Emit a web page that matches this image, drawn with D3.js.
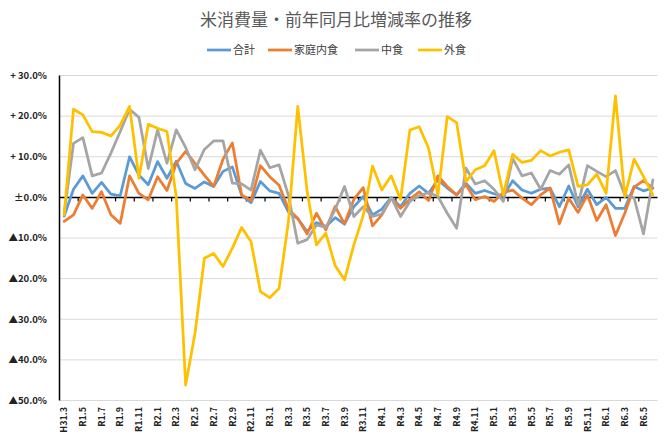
<!DOCTYPE html>
<html><head><meta charset="utf-8">
<script src="https://cdn.jsdelivr.net/npm/d3@7"></script>
<style>
html,body{margin:0;padding:0;background:#fff;}
svg{display:block;font-family:"Noto Sans CJK JP","Noto Sans",sans-serif;}
</style></head>
<body><svg id="c" width="672" height="446"></svg>
<script>
const title = "米消費量・前年同月比増減率の推移";
const categories = [
"H31.3","H31.4","R1.5","R1.6","R1.7","R1.8","R1.9","R1.10","R1.11","R1.12",
"R2.1","R2.2","R2.3","R2.4","R2.5","R2.6","R2.7","R2.8","R2.9","R2.10","R2.11","R2.12",
"R3.1","R3.2","R3.3","R3.4","R3.5","R3.6","R3.7","R3.8","R3.9","R3.10","R3.11","R3.12",
"R4.1","R4.2","R4.3","R4.4","R4.5","R4.6","R4.7","R4.8","R4.9","R4.10","R4.11","R4.12",
"R5.1","R5.2","R5.3","R5.4","R5.5","R5.6","R5.7","R5.8","R5.9","R5.10","R5.11","R5.12",
"R6.1","R6.2","R6.3","R6.4","R6.5","R6.6"];
const seriesNames = ["合計","家庭内食","中食","外食"];
const total = [-4.6,2.0,5.3,1.0,3.7,0.8,0.4,10.0,5.5,3.1,8.8,4.7,8.9,3.4,2.2,3.8,2.7,6.4,7.5,0.5,-1.3,3.9,1.6,1.0,-3.6,-5.2,-8.4,-6.2,-7.2,-5.0,-6.6,-2.3,0.2,-4.3,-2.9,0.0,-2.3,1.0,2.8,1.0,4.3,2.3,0.6,3.5,1.0,1.7,0.9,0.3,4.1,1.8,1.0,2.0,2.3,-2.3,2.8,-2.3,2.0,-1.8,0.0,-2.7,-2.7,2.7,1.6,2.3];
const home = [-5.9,-4.3,0.6,-2.7,1.4,-4.3,-6.4,5.3,1.0,-0.6,5.1,1.7,8.4,11.3,8.4,5.5,2.7,9.4,13.4,0.6,-0.8,7.8,5.1,3.0,-2.9,-5.2,-9.0,-3.9,-8.0,-2.2,-6.5,-0.5,2.4,-7.0,-4.3,-0.2,-2.7,-0.5,1.4,-0.8,5.3,2.7,0.6,3.1,-0.6,0.2,-1.0,1.2,1.8,-0.2,-1.8,0.6,2.3,-6.5,-0.2,-3.7,0.6,-5.7,-1.8,-9.4,-3.9,2.5,4.1,2.3];
const nakashoku = [-3.9,13.3,14.7,5.3,6.0,10.9,16.2,21.7,19.7,7.1,16.6,8.4,16.6,12.3,6.8,11.8,13.9,13.9,3.5,3.3,1.8,11.6,7.3,8.0,0.5,-11.3,-10.4,-6.8,-7.4,-3.0,2.7,-4.7,-2.3,-4.7,-4.1,0.0,-4.7,-1.0,0.4,1.2,0.2,-3.9,-7.6,7.2,3.3,4.1,2.0,-1.0,9.6,5.3,6.0,2.0,6.6,5.7,8.0,-1.8,7.8,6.4,5.1,6.6,0.6,-0.2,-9.0,4.3];
const gaishoku = [-4.3,21.7,20.3,16.2,16.0,15.1,17.8,22.4,4.7,18.0,17.0,16.2,0.0,-46.2,-33.5,-15.0,-13.8,-17.0,-12.5,-7.4,-10.9,-23.2,-24.7,-22.4,-6.0,22.4,1.5,-11.7,-8.8,-16.8,-20.3,-11.7,-4.5,7.7,1.8,5.3,-0.5,16.6,17.4,12.1,0.6,19.9,18.4,3.9,6.8,7.8,11.5,0.6,10.6,8.6,9.1,11.5,10.2,11.1,11.7,2.7,3.1,5.7,1.0,25.0,0.2,9.4,5.1,0.6];
const yTicks = [30,20,10,0,-10,-20,-30,-40,-50];
const yTickLabels = ["+ 30.0%","+ 20.0%","+ 10.0%","±0.0%","▲10.0%","▲20.0%","▲30.0%","▲40.0%","▲50.0%"];
const colors = ["#5B9BD5","#ED7D31","#A5A5A5","#FFC000"];

const allSeries = [total, home, nakashoku, gaishoku];
const svg = d3.select("#c");
const L = 59.5, R = 657.5, T = 75.5, B = 400.5;
const x = d3.scaleBand().domain(categories).range([L, R]).padding(0);
const y = d3.scaleLinear().domain([-50, 30]).range([B, T]);
const cx = c => x(c) + x.bandwidth() / 2;

// title
svg.append("text").attr("x", 336).attr("y", 26).attr("text-anchor", "middle")
  .attr("font-size", 17).attr("fill", "#595959").text(title);

// legend
const legX = [207, 268, 355, 418];
seriesNames.forEach((n, i) => {
  const g = svg.append("g");
  g.append("line").attr("x1", legX[i]).attr("x2", legX[i] + 24).attr("y1", 50).attr("y2", 50)
    .attr("stroke", colors[i]).attr("stroke-width", 2.75);
  g.append("text").attr("x", legX[i] + 26).attr("y", 50).attr("dy", "0.36em")
    .attr("font-size", 11).attr("fill", "#404040").text(n);
});

// gridlines
svg.append("g").selectAll("line").data(yTicks.filter(v => v !== 0)).join("line")
  .attr("x1", L).attr("x2", R).attr("y1", d => y(d)).attr("y2", d => y(d))
  .attr("stroke", "#D9D9D9").attr("stroke-width", 1);

// y labels
svg.append("g").selectAll("text").data(yTicks).join("text")
  .attr("x", 47).attr("y", d => y(d)).attr("dy", "0.35em").attr("text-anchor", "end")
  .attr("font-size", 9.5).attr("font-weight", "bold").attr("fill", "#222")
  .text((d, i) => yTickLabels[i]);

// y axis line
svg.append("line").attr("x1", L).attr("x2", L).attr("y1", T).attr("y2", B)
  .attr("stroke", "#000").attr("stroke-width", 1.5);

// zero axis + ticks
svg.append("line").attr("x1", L).attr("x2", R).attr("y1", y(0)).attr("y2", y(0))
  .attr("stroke", "#000").attr("stroke-width", 1.5);
const tickCats = categories.filter((c, i) => i % 2 === 0 && i > 0);
svg.append("g").selectAll("line").data(tickCats).join("line")
  .attr("x1", d => x(d)).attr("x2", d => x(d)).attr("y1", y(0)).attr("y2", y(0) + 4)
  .attr("stroke", "#000").attr("stroke-width", 1.2);

// x labels
svg.append("g").selectAll("text").data(categories.filter((c, i) => i % 2 === 0)).join("text")
  .attr("transform", d => `translate(${cx(d)},407) rotate(-90)`)
  .attr("text-anchor", "end").attr("dy", "0.35em")
  .attr("font-size", 9).attr("font-weight", "bold").attr("fill", "#222").text(d => d);

// lines
const line = d3.line().x((d, i) => cx(categories[i])).y(d => y(d));
allSeries.forEach((s, k) => {
  svg.append("path").datum(s).attr("d", line).attr("fill", "none")
    .attr("stroke", colors[k]).attr("stroke-width", 2.75)
    .attr("stroke-linejoin", "round").attr("stroke-linecap", "round");
});
</script></body></html>
